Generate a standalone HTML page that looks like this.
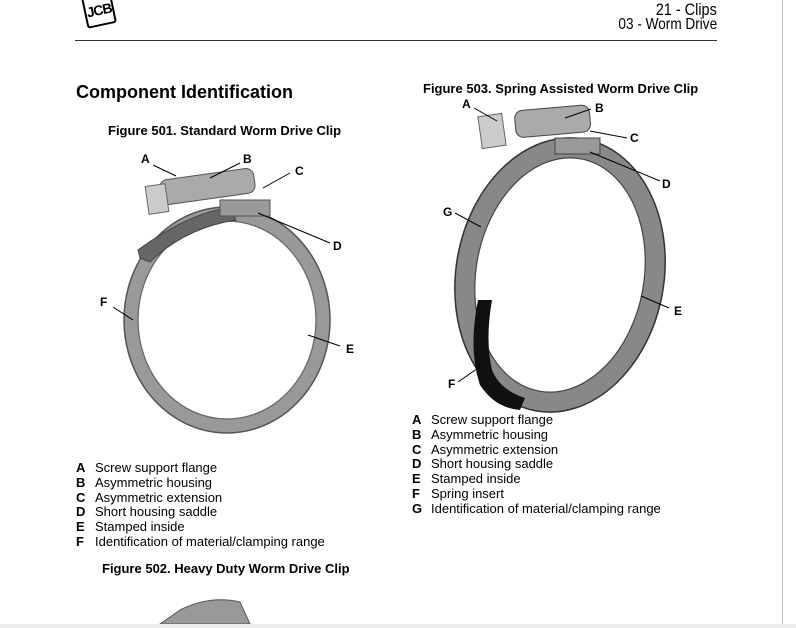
<!DOCTYPE html>
<html><head><meta charset="utf-8"><style>
body{margin:0;width:796px;height:628px;background:#fff;position:relative;overflow:hidden;font-family:"Liberation Sans",sans-serif;color:#000}
.a{position:absolute;white-space:nowrap}
.b{font-weight:bold}
.lst{position:absolute;font-size:13px;line-height:14.8px}
.lst b{display:inline-block;width:19px}
</style></head><body>
<div style="position:absolute;left:782px;top:0;width:1px;height:624px;background:#bbb"></div>
<div style="position:absolute;left:0;top:624px;width:796px;height:4px;background:#eee"></div>
<div class="a" style="left:84px;top:-6px;width:26px;height:28px;border:2px solid #000;border-radius:3px;transform:rotate(-12deg);background:#fff;font:bold 14px 'Liberation Sans';text-align:center;line-height:28px;letter-spacing:-1px">JCB</div>
<div class="a" style="right:79px;top:0px;font-size:17px;transform:scaleX(0.85);transform-origin:right">21 - Clips</div>
<div class="a" style="right:79px;top:16px;font-size:16px;transform:scaleX(0.85);transform-origin:right">03 - Worm Drive</div>
<div style="position:absolute;left:75px;top:40px;width:642px;height:1px;background:#333"></div>
<div class="a b" style="left:76px;top:82px;font-size:18px">Component Identification</div>
<div class="a b" style="left:108px;top:123px;font-size:13px">Figure 501. Standard Worm Drive Clip</div>
<div class="a b" style="left:423px;top:81px;font-size:13px">Figure 503. Spring Assisted Worm Drive Clip</div>
<div class="a b" style="left:102px;top:561px;font-size:13px">Figure 502. Heavy Duty Worm Drive Clip</div>
<svg style="position:absolute;left:0;top:0" width="796" height="628">
<g fill="none">
<ellipse cx="227" cy="320" rx="96" ry="106" stroke="#999" stroke-width="15"/>
<ellipse cx="227" cy="320" rx="103" ry="113" stroke="#555" stroke-width="1.5"/>
<ellipse cx="227" cy="320" rx="89" ry="99" stroke="#666" stroke-width="1.2"/>
<path d="M140 258 L138 250 Q190 212 230 208 L236 220 Q185 228 150 262Z" fill="#666" stroke="#444"/>
<rect x="160" y="175" width="95" height="25" rx="8" fill="#aaa" stroke="#555" transform="rotate(-8 200 188)"/>
<rect x="220" y="200" width="50" height="16" fill="#999" stroke="#555"/>
<rect x="147" y="185" width="20" height="28" fill="#ccc" stroke="#666" transform="rotate(-8 157 199)"/>
<ellipse cx="560" cy="275" rx="94" ry="128" stroke="#888" stroke-width="20" transform="rotate(10 560 275)"/>
<ellipse cx="560" cy="275" rx="104" ry="138" stroke="#333" stroke-width="1.5" transform="rotate(10 560 275)"/>
<ellipse cx="560" cy="275" rx="84" ry="118" stroke="#444" stroke-width="1.2" transform="rotate(10 560 275)"/>
<path d="M478 300 Q468 350 480 385 Q495 408 520 410 L525 398 Q500 390 492 370 Q485 340 492 300Z" fill="#111"/>
<rect x="515" y="108" width="75" height="27" rx="8" fill="#aaa" stroke="#444" transform="rotate(-5 550 120)"/>
<rect x="555" y="138" width="45" height="16" fill="#999" stroke="#444"/>
<rect x="480" y="115" width="24" height="32" fill="#ccc" stroke="#666" transform="rotate(-8 492 131)"/>
</g>
<g stroke="#000" stroke-width="1">
<line x1="153" y1="165" x2="176" y2="176"/><line x1="240" y1="163" x2="210" y2="178"/><line x1="290" y1="173" x2="263" y2="188"/>
<line x1="330" y1="243" x2="258" y2="213"/><line x1="113" y1="307" x2="133" y2="320"/><line x1="340" y1="346" x2="308" y2="335"/>
<line x1="474" y1="108" x2="497" y2="121"/><line x1="591" y1="109" x2="565" y2="118"/><line x1="627" y1="138" x2="590" y2="131"/>
<line x1="660" y1="181" x2="590" y2="152"/><line x1="455" y1="213" x2="481" y2="227"/><line x1="669" y1="308" x2="641" y2="296"/>
<line x1="458" y1="382" x2="481" y2="366"/>
</g>
<g font-family="Liberation Sans" font-weight="bold" font-size="12">
<text x="141" y="163">A</text><text x="243" y="163">B</text><text x="295" y="175">C</text><text x="333" y="250">D</text><text x="100" y="306">F</text><text x="346" y="353">E</text>
<text x="462" y="108">A</text><text x="595" y="112">B</text><text x="630" y="142">C</text><text x="662" y="188">D</text><text x="443" y="216">G</text><text x="674" y="315">E</text><text x="448" y="388">F</text>
</g>
</svg>
<div class="lst" style="left:76px;top:461px"><b>A</b>Screw support flange<br><b>B</b>Asymmetric housing<br><b>C</b>Asymmetric extension<br><b>D</b>Short housing saddle<br><b>E</b>Stamped inside<br><b>F</b>Identification of material/clamping range</div>
<div class="lst" style="left:412px;top:413px"><b>A</b>Screw support flange<br><b>B</b>Asymmetric housing<br><b>C</b>Asymmetric extension<br><b>D</b>Short housing saddle<br><b>E</b>Stamped inside<br><b>F</b>Spring insert<br><b>G</b>Identification of material/clamping range</div>
<svg style="position:absolute;left:150px;top:590px" width="150" height="34"><path d="M10 34 L30 20 Q60 5 90 12 L100 34Z" fill="#999" stroke="#555"/></svg>
</body></html>
